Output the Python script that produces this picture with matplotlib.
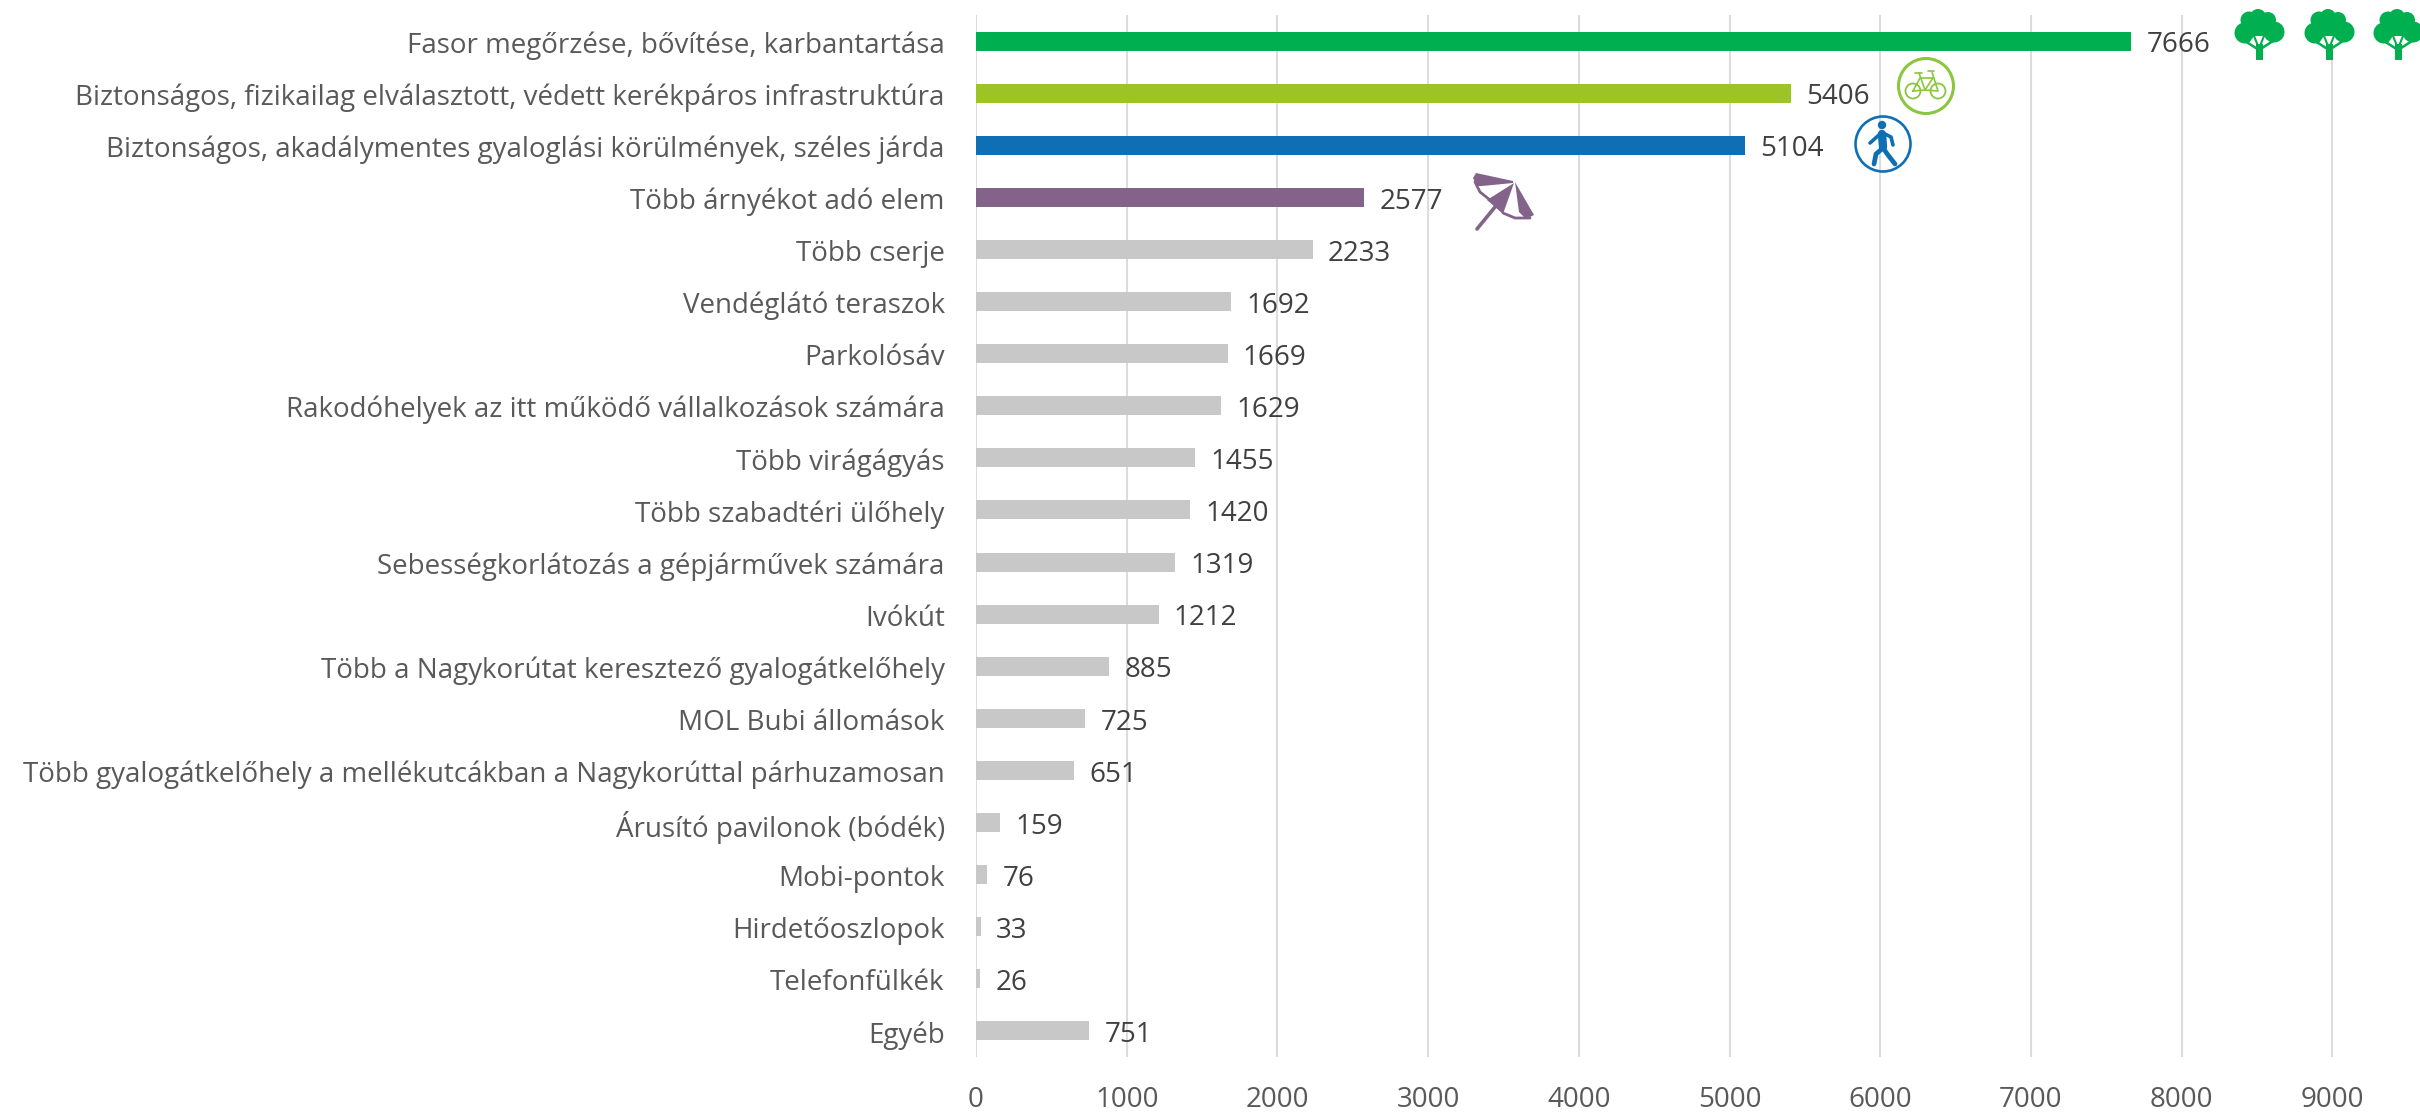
import matplotlib
matplotlib.use("Agg")
import matplotlib.pyplot as plt
from matplotlib.patches import Circle, Polygon
from matplotlib.transforms import Affine2D

plt.rcParams['font.family'] = ['Open Sans', 'DejaVu Sans']

categories = ["Fasor megőrzése, bővítése, karbantartása",
              "Biztonságos, fizikailag elválasztott, védett kerékpáros infrastruktúra",
              "Biztonságos, akadálymentes gyaloglási körülmények, széles járda",
              "Több árnyékot adó elem",
              "Több cserje",
              "Vendéglátó teraszok",
              "Parkolósáv",
              "Rakodóhelyek az itt működő vállalkozások számára",
              "Több virágágyás",
              "Több szabadtéri ülőhely",
              "Sebességkorlátozás a gépjárművek számára",
              "Ivókút",
              "Több a Nagykorútat keresztező gyalogátkelőhely",
              "MOL Bubi állomások",
              "Több gyalogátkelőhely a mellékutcákban a Nagykorúttal párhuzamosan",
              "Árusító pavilonok (bódék)",
              "Mobi-pontok",
              "Hirdetőoszlopok",
              "Telefonfülkék",
              "Egyéb"]
values = [7666, 5406, 5104, 2577, 2233, 1692, 1669, 1629, 1455, 1420,
          1319, 1212, 885, 725, 651, 159, 76, 33, 26, 751]
bar_colors = ['#00B050', '#9BC424', '#0F6FB5', '#83638A'] + ['#C8C8C8'] * 16
ticks = [0, 1000, 2000, 3000, 4000, 5000, 6000, 7000, 8000, 9000]

W, H = 2420, 1115
GREEN = '#00B050'
LIME = '#8CC63F'
BLUE = '#0F6FB5'
PURPLE = '#83638A'

fig = plt.figure(figsize=(W / 100, H / 100), dpi=100)
ax = fig.add_axes([976 / W, 1 - 1057 / H, (W - 976) / W, (1057 - 15) / H])

y = list(range(len(values)))
ax.barh(y, values, height=0.365, color=bar_colors, zorder=2)
ax.set_ylim(len(values) - 0.5, -0.5)
ax.set_xlim(0, (W - 976) / 0.1507)
ax.set_xticks(ticks)
ax.set_yticks(y)
ax.set_yticklabels(categories, fontsize=20, color='#595959')
ax.tick_params(axis='x', length=0, pad=21, labelsize=20, labelcolor='#595959')
ax.tick_params(axis='y', length=0, pad=22.5)
ax.grid(axis='x', color='#DCDCDC', linewidth=1.5, zorder=1)
ax.set_axisbelow(True)
for s in ax.spines.values():
    s.set_visible(False)

# feliratok kicsit lejjebb
for lab in ax.get_yticklabels():
    lab.set_transform(lab.get_transform() + Affine2D().translate(0, -1))

for i, v in enumerate(values):
    ax.annotate(str(v), (v, i), xytext=(11, -3), textcoords='offset points',
                va='center', ha='left', fontsize=20, color='#404040', zorder=3)

# ikonok: kep pixelben, bal felso sarok az origo
px = Affine2D().scale(1, -1).translate(0, H)


def add(p):
    p.set_transform(px)
    p.set_clip_on(False)
    fig.add_artist(p)


def line(pts, color, lw):
    xs = [q[0] for q in pts]
    ys = [q[1] for q in pts]
    l = plt.Line2D(xs, ys, color=color, linewidth=lw, transform=px,
                   solid_capstyle='round', solid_joinstyle='round')
    fig.add_artist(l)


def tree(cx):
    for dx, dy, r in [(-14, 33, 10.5), (-10, 20, 8.5), (-1, 17, 8), (9, 20, 8),
                      (15, 32, 10.5), (0, 26, 13), (-6, 29, 11), (6, 29, 11)]:
        add(Circle((cx + dx, dy), r, color=GREEN, lw=0))
    # fehér rés a korona alján, rajta az ágak
    add(Polygon([(cx - 12, 46), (cx - 5, 36), (cx + 5, 36), (cx + 12, 46)], color='white', lw=0))
    line([(cx, 50), (cx - 14, 41)], GREEN, 1.8)
    line([(cx, 50), (cx + 14, 41)], GREEN, 1.8)
    line([(cx - 1, 46), (cx - 5, 36)], GREEN, 1.5)
    line([(cx + 1, 46), (cx + 5, 36)], GREEN, 1.5)
    add(Polygon([(cx - 3.5, 60), (cx + 3.5, 60), (cx + 3.5, 44), (cx - 3.5, 44)], color=GREEN, lw=0))


for cx in [2259, 2329, 2398]:
    tree(cx)

# bicikli
add(Circle((1926, 86), 27.5, fill=False, edgecolor=LIME, linewidth=2.2))
add(Circle((1913, 91), 7.5, fill=False, edgecolor=LIME, linewidth=1.3))
add(Circle((1938, 91), 7.5, fill=False, edgecolor=LIME, linewidth=1.3))
line([(1913, 91), (1920, 78), (1933, 78), (1925, 90), (1913, 91)], LIME, 1.2)
line([(1919, 73), (1925, 90), (1938, 91), (1932, 72)], LIME, 1.2)
line([(1915, 73), (1922, 73)], LIME, 1.2)
line([(1928, 71), (1934, 71)], LIME, 1.2)

# gyalogos
add(Circle((1883, 144), 27.5, fill=False, edgecolor=BLUE, linewidth=1.9))
add(Circle((1882, 125), 4.2, color=BLUE, lw=0))
line([(1882, 134), (1883, 147)], BLUE, 6)
line([(1880, 134), (1870, 143)], BLUE, 2.6)
line([(1885, 134), (1891, 137), (1893, 145)], BLUE, 2.6)
line([(1883, 148), (1876, 154), (1874, 164)], BLUE, 3.4)
line([(1883, 148), (1888, 155), (1895, 164)], BLUE, 3.4)

# napernyo
add(Polygon([(1476, 173), (1513, 181), (1513, 183), (1482, 186), (1477, 186), (1473, 178)],
            color=PURPLE, lw=0))
add(Polygon([(1514, 183), (1487, 200), (1503, 214)], color=PURPLE, lw=0))
add(Polygon([(1515, 182), (1534, 215), (1526, 219), (1519, 212)], color=PURPLE, lw=0))
line([(1475, 182), (1480, 192), (1490, 200)], PURPLE, 2)
line([(1503, 213), (1515, 218), (1530, 218)], PURPLE, 2)
line([(1495, 207), (1477, 229)], PURPLE, 2.6)

fig.savefig('out.png', dpi=100)
